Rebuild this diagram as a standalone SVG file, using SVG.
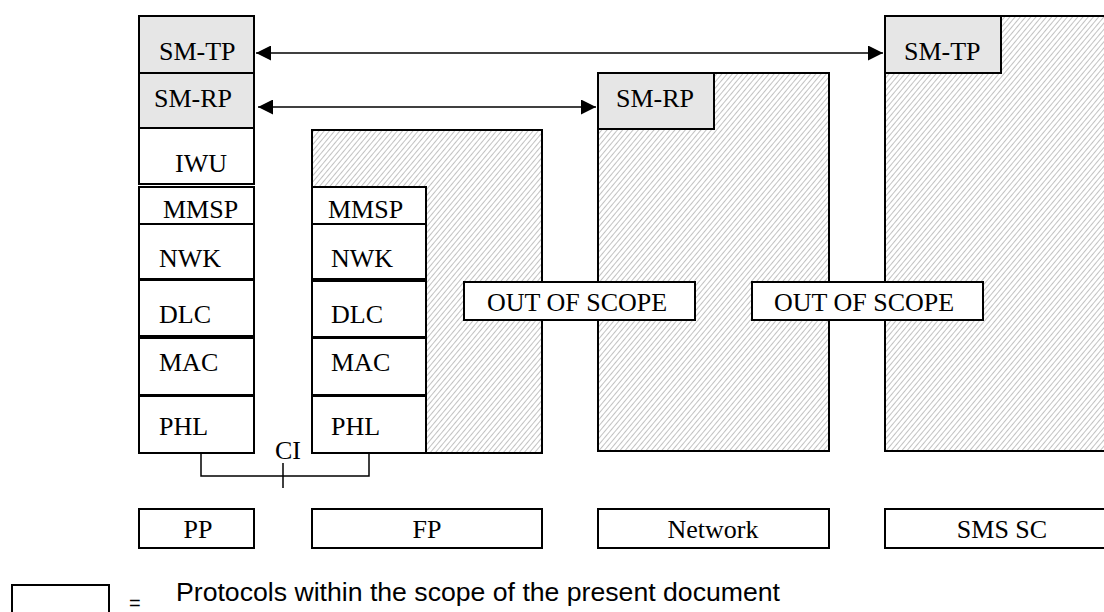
<svg xmlns="http://www.w3.org/2000/svg" width="1104" height="612" viewBox="0 0 1104 612">
<defs>
<pattern id="hatch" patternUnits="userSpaceOnUse" width="4" height="4" patternTransform="rotate(40)">
<rect width="4" height="4" fill="#ffffff"/>
<line x1="0" y1="0" x2="0" y2="4" stroke="#a8a8a8" stroke-width="1.4"/>
</pattern>
<marker id="ah" viewBox="0 0 10 10" refX="10" refY="5" markerWidth="17" markerHeight="15" markerUnits="userSpaceOnUse" orient="auto-start-reverse">
<path d="M0,0 L10,5 L0,10 z" fill="#000"/>
</marker>
<style>
.b{fill:#fff;stroke:#000;stroke-width:2}
.g{fill:#e6e6e6;stroke:#000;stroke-width:2}
.h{fill:url(#hatch);stroke:#000;stroke-width:2}
.t{font-family:"Liberation Serif","Times New Roman",serif;font-size:26px;fill:#000}
.c{text-anchor:middle}
.ln{fill:none;stroke:#000;stroke-width:1.5}
.s{font-family:"Liberation Sans",Arial,sans-serif;fill:#000}
</style>
</defs>
<rect width="1104" height="612" fill="#fff"/>

<g id="fp-area"><rect class="h" x="312" y="130" width="230" height="323"/></g>
<g id="network-area"><rect class="h" x="598" y="73" width="231" height="378"/></g>
<g id="smssc-area"><rect class="h" x="885" y="16" width="225" height="435"/></g>

<g id="pp-smtp"><rect class="g" x="139" y="16" width="115" height="57"/><text class="t" x="159" y="60">SM-TP</text></g>
<g id="pp-smrp"><rect class="g" x="139" y="73" width="115" height="55"/><text class="t" x="154" y="107">SM-RP</text></g>
<g id="pp-iwu"><rect class="b" x="139" y="128" width="115" height="56"/><text class="t" x="175" y="172">IWU</text></g>
<g id="pp-mmsp"><rect class="b" x="139" y="187" width="115" height="37"/><text class="t" x="163" y="218">MMSP</text></g>
<g id="pp-nwk"><rect class="b" x="139" y="224" width="115" height="55"/><text class="t" x="159" y="267">NWK</text></g>
<g id="pp-dlc"><rect class="b" x="139" y="280" width="115" height="56"/><text class="t" x="159" y="323">DLC</text></g>
<g id="pp-mac"><rect class="b" x="139" y="338" width="115" height="57"/><text class="t" x="159" y="371">MAC</text></g>
<g id="pp-phl"><rect class="b" x="139" y="396" width="115" height="57"/><text class="t" x="159" y="435">PHL</text></g>

<g id="fp-mmsp"><rect class="b" x="312" y="187" width="114" height="37"/><text class="t" x="328" y="218">MMSP</text></g>
<g id="fp-nwk"><rect class="b" x="312" y="224" width="114" height="55"/><text class="t" x="331" y="267">NWK</text></g>
<g id="fp-dlc"><rect class="b" x="312" y="281" width="114" height="56"/><text class="t" x="331" y="323">DLC</text></g>
<g id="fp-mac"><rect class="b" x="312" y="338" width="114" height="57"/><text class="t" x="331" y="371">MAC</text></g>
<g id="fp-phl"><rect class="b" x="312" y="396" width="114" height="57"/><text class="t" x="331" y="435">PHL</text></g>

<g id="net-smrp"><rect class="g" x="598" y="73" width="116" height="56"/><text class="t" x="616" y="107">SM-RP</text></g>
<g id="sc-smtp"><rect class="g" x="885" y="16" width="116" height="57"/><text class="t" x="904" y="60">SM-TP</text></g>

<g id="oos1"><rect class="b" x="464" y="282" width="231" height="38"/><text class="t" x="487" y="311">OUT OF SCOPE</text></g>
<g id="oos2"><rect class="b" x="752" y="282" width="231" height="38"/><text class="t" x="774" y="311">OUT OF SCOPE</text></g>

<g id="connectors">
<line class="ln" x1="256" y1="53" x2="883" y2="53" marker-start="url(#ah)" marker-end="url(#ah)"/>
<line class="ln" x1="258" y1="107" x2="596" y2="107" marker-start="url(#ah)" marker-end="url(#ah)"/>
<polyline class="ln" points="201,453 201,476 369,476 369,453"/>
<line class="ln" x1="283" y1="463" x2="283" y2="488"/>
<text class="t c" x="288" y="459">CI</text>
</g>

<g id="lbl-pp"><rect class="b" x="139" y="509" width="115" height="39"/><text class="t c" x="198" y="538">PP</text></g>
<g id="lbl-fp"><rect class="b" x="312" y="509" width="230" height="39"/><text class="t c" x="427" y="538">FP</text></g>
<g id="lbl-net"><rect class="b" x="598" y="509" width="231" height="39"/><text class="t c" x="713" y="538">Network</text></g>
<g id="lbl-sc"><rect class="b" x="885" y="509" width="225" height="39"/><text class="t c" x="1002" y="538">SMS SC</text></g>

<g id="legend">
<rect class="b" x="12" y="585" width="97" height="40"/>
<text class="s" x="129" y="610" style="font-size:20px">=</text>
<text class="s" x="176" y="601" style="font-size:25px" textLength="604" lengthAdjust="spacingAndGlyphs">Protocols within the scope of the present document</text>
</g>
</svg>
